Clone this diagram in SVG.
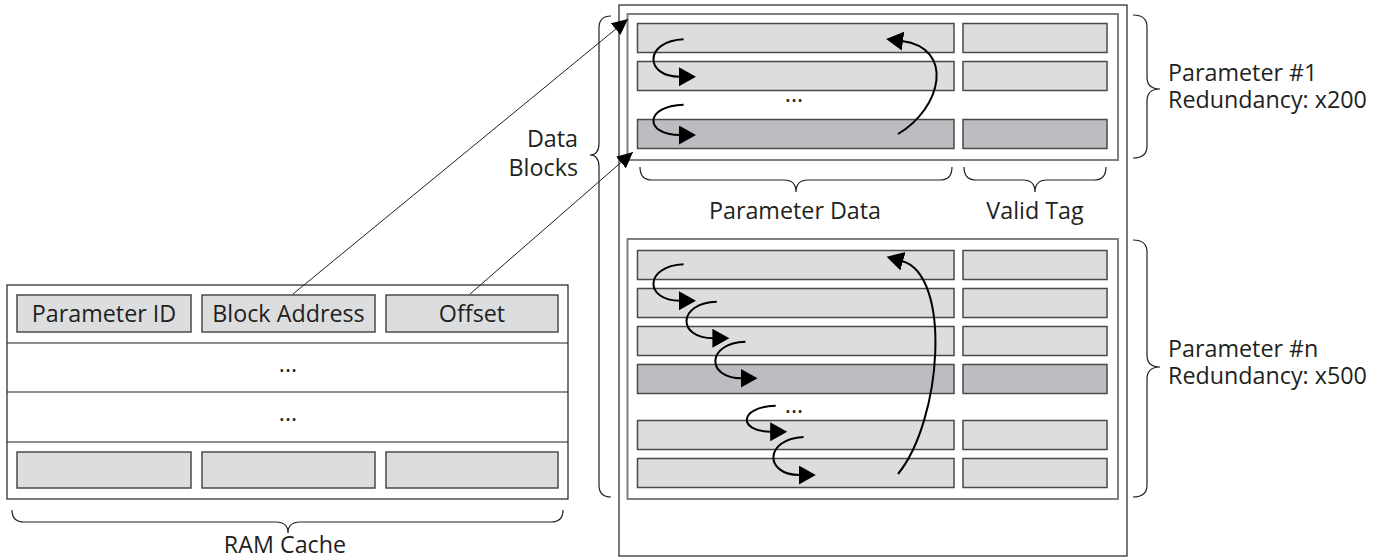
<svg xmlns="http://www.w3.org/2000/svg" width="1385" height="560" viewBox="0 0 1385 560">
<style>
text{font-family:"Open Sans","Noto Sans","Liberation Sans",sans-serif;font-size:23.3px;fill:#231f20}
.cell{fill:#dcdddf;stroke:#4a4a4a;stroke-width:1.5}
.dark{fill:#bcbdc0;stroke:#4a4a4a;stroke-width:1.5}
.frame{fill:#fff;stroke:#808080;stroke-width:2}
.outer{fill:#fff;stroke:#231f20;stroke-width:1.2}
.brace{fill:none;stroke:#231f20;stroke-width:1.2}
.curve{fill:none;stroke:#000;stroke-width:2}
.conn{fill:none;stroke:#231f20;stroke-width:1}
.mid{text-anchor:middle}
</style>
<defs>
<marker id="ah" markerUnits="userSpaceOnUse" markerWidth="18" markerHeight="20" refX="1" refY="9.5" orient="auto">
<path d="M0,0 L17,9.5 L0,19 z" fill="#000"/>
</marker>
<marker id="ct" markerUnits="userSpaceOnUse" markerWidth="17" markerHeight="16" refX="16" refY="7.5" orient="auto">
<path d="M0,0 L16,7.5 L0,15 z" fill="#000"/>
</marker>
</defs>

<g id="ram-cache">
<rect class="outer" x="7" y="285" width="561" height="214"/>
<line x1="7" y1="343" x2="568" y2="343" stroke="#231f20" stroke-width="1.2"/>
<line x1="7" y1="392" x2="568" y2="392" stroke="#231f20" stroke-width="1.2"/>
<line x1="7" y1="442" x2="568" y2="442" stroke="#231f20" stroke-width="1.2"/>
<rect class="cell" x="17" y="295" width="174" height="37"/>
<rect class="cell" x="202" y="295" width="173" height="37"/>
<rect class="cell" x="386" y="295" width="172" height="37"/>
<text class="mid" x="104" y="321.5">Parameter ID</text>
<text class="mid" x="288.5" y="321.5">Block Address</text>
<text class="mid" x="472" y="321.5">Offset</text>
<text class="mid" x="288" y="372">...</text>
<text class="mid" x="288" y="421">...</text>
<rect class="cell" x="17" y="452" width="174" height="36"/>
<rect class="cell" x="202" y="452" width="173" height="36"/>
<rect class="cell" x="386" y="452" width="172" height="36"/>
<path class="brace" d="M12,510 Q12,522 24,522 L276,522 Q288,522 288,533 Q288,522 300,522 L551,522 Q563,522 563,510"/>
<text class="mid" x="285" y="553">RAM Cache</text>
</g>

<g id="data-blocks">
<rect class="outer" x="619" y="5" width="508" height="551"/>
<path class="brace" d="M611,16 Q599,16 599,28 L599,143 Q599,155 590,155 Q599,155 599,167 L599,485 Q599,497 611,497"/>
<text x="578" y="147" text-anchor="end">Data</text>
<text x="578" y="176" text-anchor="end">Blocks</text>
</g>

<g id="parameter-1">
<rect class="frame" x="627.5" y="14" width="490.5" height="146"/>
<rect class="cell" x="637.5" y="23.5" width="316.5" height="29"/>
<rect class="cell" x="963" y="23.5" width="144" height="29"/>
<rect class="cell" x="637.5" y="61.5" width="316.5" height="29"/>
<rect class="cell" x="963" y="61.5" width="144" height="29"/>
<text class="mid" x="794" y="102">...</text>
<rect class="dark" x="637.5" y="119.5" width="316.5" height="29"/>
<rect class="dark" x="963" y="119.5" width="144" height="29"/>
<path class="brace" d="M640,167 Q640,180 652,180 L784,180 Q796,180 796,192 Q796,180 808,180 L940,180 Q952,180 952,167"/>
<path class="brace" d="M964,167 Q964,180 976,180 L1023,180 Q1035,180 1035,192 Q1035,180 1047,180 L1094,180 Q1106,180 1106,167"/>
<text class="mid" x="795" y="219">Parameter Data</text>
<text class="mid" x="1035" y="219">Valid Tag</text>
<path class="brace" d="M1133,15 Q1147,15 1147,27 L1147,77 Q1147,89 1160,89 Q1147,89 1147,101 L1147,146 Q1147,158 1133,158"/>
<text x="1168" y="81">Parameter #1</text>
<text x="1168" y="108">Redundancy: x200</text>
</g>

<g id="parameter-n">
<rect class="frame" x="627.5" y="239" width="490.5" height="260"/>
<rect class="cell" x="637.5" y="250.5" width="316.5" height="29"/>
<rect class="cell" x="963" y="250.5" width="144" height="29"/>
<rect class="cell" x="637.5" y="288.5" width="316.5" height="29"/>
<rect class="cell" x="963" y="288.5" width="144" height="29"/>
<rect class="cell" x="637.5" y="326.5" width="316.5" height="29"/>
<rect class="cell" x="963" y="326.5" width="144" height="29"/>
<rect class="dark" x="637.5" y="364.5" width="316.5" height="29"/>
<rect class="dark" x="963" y="364.5" width="144" height="29"/>
<text class="mid" x="794" y="413">...</text>
<rect class="cell" x="637.5" y="420.5" width="316.5" height="29"/>
<rect class="cell" x="963" y="420.5" width="144" height="29"/>
<rect class="cell" x="637.5" y="458.5" width="316.5" height="29"/>
<rect class="cell" x="963" y="458.5" width="144" height="29"/>
<path class="brace" d="M1133,240 Q1147,240 1147,252 L1147,355 Q1147,367 1160,367 Q1147,367 1147,379 L1147,485 Q1147,497 1133,497"/>
<text x="1168" y="357">Parameter #n</text>
<text x="1168" y="384">Redundancy: x500</text>
</g>

<g id="connectors">
<line class="conn" x1="293" y1="294" x2="628" y2="19" marker-end="url(#ct)"/>
<line class="conn" x1="470" y1="294" x2="633" y2="152" marker-end="url(#ct)"/>
<path class="curve" marker-end="url(#ah)" d="M683.6,39.3 C644,41 644,76.7 680,76.7"/>
<path class="curve" marker-end="url(#ah)" d="M683.6,104.7 C644,106 644,135 680,135"/>
<path class="curve" marker-end="url(#ah)" d="M898,134 C942,108 955,48 902,41"/>
<path class="curve" marker-end="url(#ah)" d="M683.6,264.3 C644,266 644,300.7 680,300.7"/>
<path class="curve" marker-end="url(#ah)" d="M716.8,301.7 C677,303 677,338.3 713.4,338.3"/>
<path class="curve" marker-end="url(#ah)" d="M745.4,341.7 C706,343 706,378.3 741.6,378.3"/>
<path class="curve" marker-end="url(#ah)" d="M775.7,405.7 C738,407 738,431.7 771.2,431.7"/>
<path class="curve" marker-end="url(#ah)" d="M803.6,437 C764,439 764,475 799.8,475"/>
<path class="curve" marker-end="url(#ah)" d="M898,474 C942,420 952,275 902,261"/>
</g>
</svg>
